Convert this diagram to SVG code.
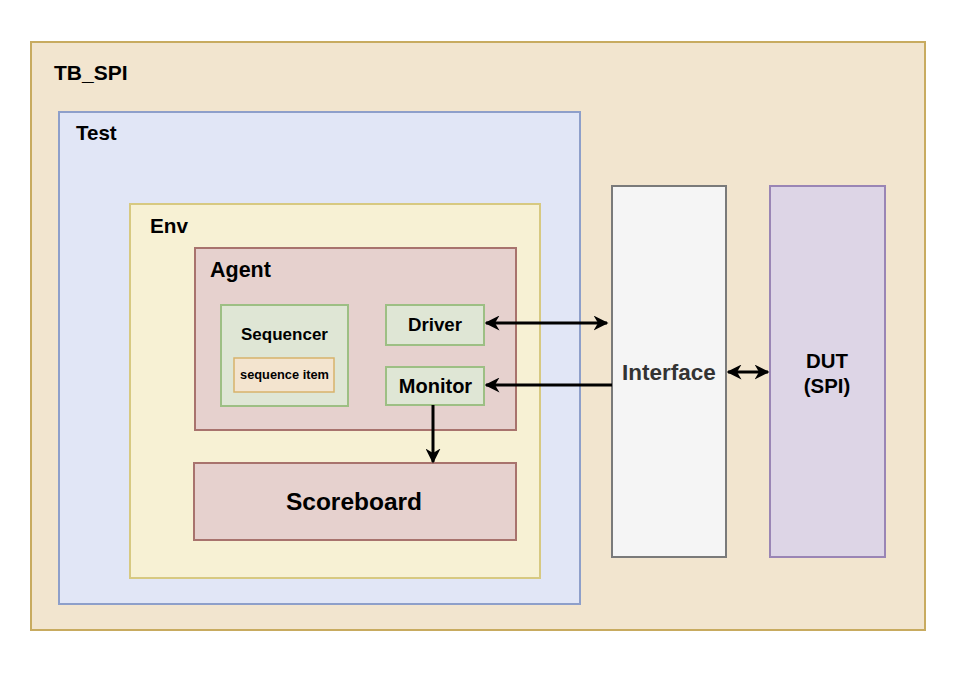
<svg xmlns="http://www.w3.org/2000/svg" width="964" height="680" viewBox="0 0 964 680">
<defs>
<style>
text{font-family:"Liberation Sans",Arial,sans-serif;font-weight:bold;fill:#000}
.c{text-anchor:middle}
.g rect{fill:#dfe6d5;stroke:#9dbf84;stroke-width:2}
.conn{stroke:#000;stroke-width:3;fill:none}
</style>
<marker id="ah" viewBox="0 0 10 10" refX="9" refY="5" markerWidth="5" markerHeight="5" orient="auto-start-reverse" markerUnits="strokeWidth">
<path d="M0,0 L10,5 L0,10 L3,5 Z" fill="#000"/>
</marker>
</defs>
<rect width="964" height="680" fill="#fff"/>
<g id="tb_spi"><rect x="31" y="42" width="894" height="588" fill="#f2e5cf" stroke="#c8ab60" stroke-width="2"/><text x="54" y="80" font-size="21">TB_SPI</text></g>
<g id="test"><rect x="59" y="112" width="521" height="492" fill="#e1e6f6" stroke="#8e9fca" stroke-width="2"/><text x="76" y="140" font-size="20.5">Test</text></g>
<g id="env"><rect x="130" y="204" width="410" height="374" fill="#f7f1d4" stroke="#d7c981" stroke-width="2"/><text x="150" y="233" font-size="20.7">Env</text></g>
<g id="agent"><rect x="195" y="248" width="321" height="182" fill="#e6d1ce" stroke="#a8736d" stroke-width="2"/><text x="210" y="277" font-size="21.5">Agent</text></g>
<g id="sequencer" class="g"><rect x="221" y="305" width="127" height="101"/><text class="c" x="284.5" y="340" font-size="17">Sequencer</text></g>
<g id="sequence_item"><rect x="234" y="358" width="100" height="34" fill="#f3e4cf" stroke="#d8b36b" stroke-width="1.5"/><text class="c" x="284.5" y="379" font-size="12.8">sequence item</text></g>
<g id="driver" class="g"><rect x="386" y="305" width="98" height="40"/><text class="c" x="435" y="331" font-size="18.7">Driver</text></g>
<g id="monitor" class="g"><rect x="386" y="367" width="98" height="38"/><text class="c" x="435.5" y="393" font-size="20">Monitor</text></g>
<g id="scoreboard"><rect x="194" y="463" width="322" height="77" fill="#e6d1ce" stroke="#a8736d" stroke-width="2"/><text class="c" x="354" y="510" font-size="24.5">Scoreboard</text></g>
<g id="interface"><rect x="612" y="186" width="114" height="371" fill="#f5f5f5" stroke="#7a7a7a" stroke-width="2"/><text class="c" x="669" y="380" font-size="22.5" style="fill:#333">Interface</text></g>
<g id="dut"><rect x="770" y="186" width="115" height="371" fill="#ddd5e6" stroke="#9a85b5" stroke-width="2"/><text class="c" x="827" y="368" font-size="20.4">DUT</text><text class="c" x="827" y="393" font-size="20.4">(SPI)</text></g>
<g id="connectors">
<line class="conn" x1="486" y1="323" x2="607" y2="323" marker-start="url(#ah)" marker-end="url(#ah)"/>
<line class="conn" x1="612" y1="385" x2="486" y2="385" marker-end="url(#ah)"/>
<line class="conn" x1="433" y1="405" x2="433" y2="462" marker-end="url(#ah)"/>
<line class="conn" x1="728" y1="372" x2="768" y2="372" stroke-width="2.5" marker-start="url(#ah)" marker-end="url(#ah)"/>
</g>
</svg>
